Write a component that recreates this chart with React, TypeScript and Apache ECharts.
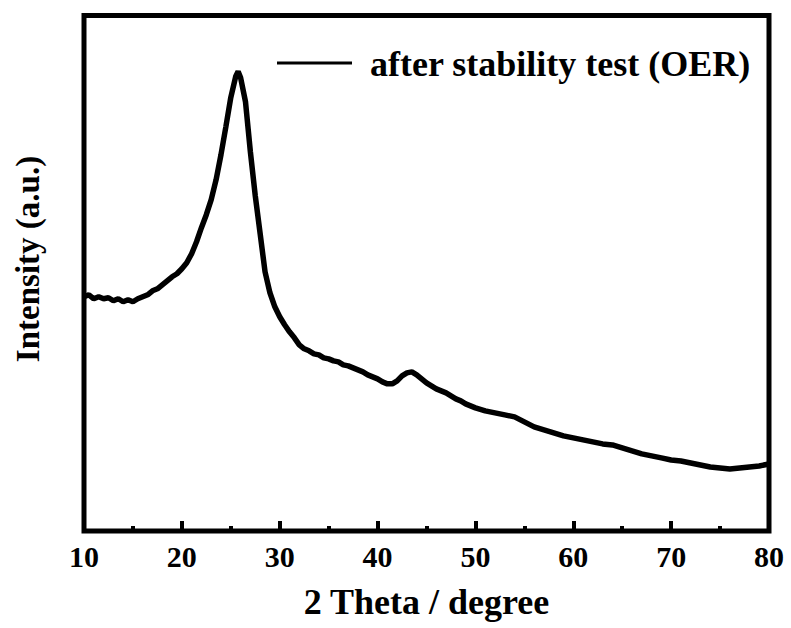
import React, { useEffect, useRef } from "react";
import * as echarts from "echarts";

const twoTheta: number[] = [
  10.0, 10.5, 11.0, 11.5, 12.0, 12.5, 13.0, 13.5, 14.0, 14.5, 15.0, 15.5, 16.0, 16.5, 17.0, 17.5,
  18.0, 18.5, 19.0, 19.5, 20.0, 20.5, 21.0, 21.5, 22.0, 22.5, 23.0, 23.5, 24.0, 24.5, 25.0, 25.5,
  25.75, 26.0, 26.5, 27.0, 27.5, 28.0, 28.5, 29.0, 29.5, 30.0, 30.5, 31.0, 31.5, 32.0, 32.5, 33.0,
  33.5, 34.0, 34.5, 35.0, 35.5, 36.0, 36.5, 37.0, 37.5, 38.0, 38.5, 39.0, 39.5, 40.0, 40.5, 41.0,
  41.5, 42.0, 42.5, 43.0, 43.5, 44.0, 44.5, 45.0, 45.5, 46.0, 46.5, 47.0, 47.5, 48.0, 48.5, 49.0,
  49.5, 50.0, 51.0, 52.0, 53.0, 54.0, 55.0, 56.0, 57.0, 58.0, 59.0, 60.0, 61.0, 62.0, 63.0, 64.0,
  65.0, 66.0, 67.0, 68.0, 69.0, 70.0, 71.0, 72.0, 73.0, 74.0, 75.0, 76.0, 77.0, 78.0, 79.0, 80.0,
];

const intensity: number[] = [
  234, 236, 232, 234, 232, 233, 230, 232, 229, 231, 229, 232, 234, 236, 240, 242,
  246, 250, 254, 257, 262, 268, 277, 289, 303, 316, 331, 351, 376, 404, 433, 454,
  459, 453, 429, 379, 335, 297, 259, 238, 224, 214, 206, 199, 193, 186, 182, 180,
  177, 176, 173, 172, 170, 169, 166, 165, 163, 161, 159, 156, 154, 152, 149, 147,
  147, 150, 155, 158, 159, 156, 152, 148, 145, 142, 140, 138, 135, 132, 130, 127,
  125, 123, 120, 118, 116, 114, 109, 104, 101, 98, 95, 93, 91, 89, 87, 86,
  83, 80, 77, 75, 73, 71, 70, 68, 66, 64, 63, 62, 63, 64, 65, 67,
];

const xTickMin = 10;
const xTickMax = 80;
const xTickStep = 10;
const seriesName = "after stability test (OER)";
const xAxisTitle = "2 Theta / degree";
const yAxisTitle = "Intensity (a.u.)";

const FONT = "'Liberation Serif', 'Times New Roman', serif";

export default function App() {
  const ref = useRef<HTMLDivElement>(null);

  useEffect(() => {
    if (!ref.current) return;
    const chart = echarts.init(ref.current, undefined, { renderer: "svg" });
    const data = twoTheta.map((x, i) => [x, intensity[i]]);
    chart.setOption({
      animation: false,
      backgroundColor: "#ffffff",
      grid: {
        left: 84,
        right: 22,
        top: 15.5,
        bottom: 97,
        show: true,
        borderWidth: 5,
        borderColor: "#000000",
        backgroundColor: "transparent",
      },
      xAxis: {
        type: "value",
        min: xTickMin,
        max: xTickMax,
        interval: xTickStep,
        axisLine: { show: false },
        axisTick: {
          show: true,
          inside: true,
          length: 10,
          lineStyle: { color: "#000", width: 4 },
        },
        minorTick: {
          show: true,
          splitNumber: 2,
          length: 5,
          lineStyle: { color: "#000", width: 4 },
        },
        splitLine: { show: false },
        minorSplitLine: { show: false },
        axisLabel: {
          margin: 10,
          fontSize: 30,
          fontWeight: "bold",
          fontFamily: FONT,
          color: "#000",
        },
        name: xAxisTitle,
        nameLocation: "middle",
        nameGap: 53,
        nameTextStyle: {
          fontSize: 36,
          fontWeight: "bold",
          fontFamily: FONT,
          color: "#000",
        },
      },
      yAxis: {
        type: "value",
        min: 0,
        max: 515,
        axisLine: { show: false },
        axisTick: { show: false },
        axisLabel: { show: false },
        splitLine: { show: false },
      },
      graphic: [
        {
          type: "text",
          x: 28,
          y: 259,
          rotation: Math.PI / 2,
          style: {
            text: yAxisTitle,
            fontSize: 33,
            fontWeight: "bold",
            fontFamily: FONT,
            fill: "#000",
            textAlign: "center",
            textVerticalAlign: "middle",
          },
          z: 10,
        },
        {
          type: "line",
          shape: { x1: 277, y1: 63, x2: 352, y2: 63 },
          style: { stroke: "#000", lineWidth: 3 },
          z: 10,
        },
        {
          type: "text",
          x: 370,
          y: 64,
          style: {
            text: seriesName,
            fontSize: 36,
            fontWeight: "bold",
            fontFamily: FONT,
            fill: "#000",
            textVerticalAlign: "middle",
            textAlign: "left",
          },
          z: 10,
        },
      ],
      series: [
        {
          name: seriesName,
          type: "line",
          data,
          showSymbol: false,
          symbol: "none",
          lineStyle: { color: "#000", width: 5.5 },
          itemStyle: { color: "#000" },
        },
      ],
    });
    return () => chart.dispose();
  }, []);

  return (
    <div
      ref={ref}
      style={{ position: "absolute", left: 0, top: 0, width: 791, height: 628, background: "#fff" }}
    />
  );
}
